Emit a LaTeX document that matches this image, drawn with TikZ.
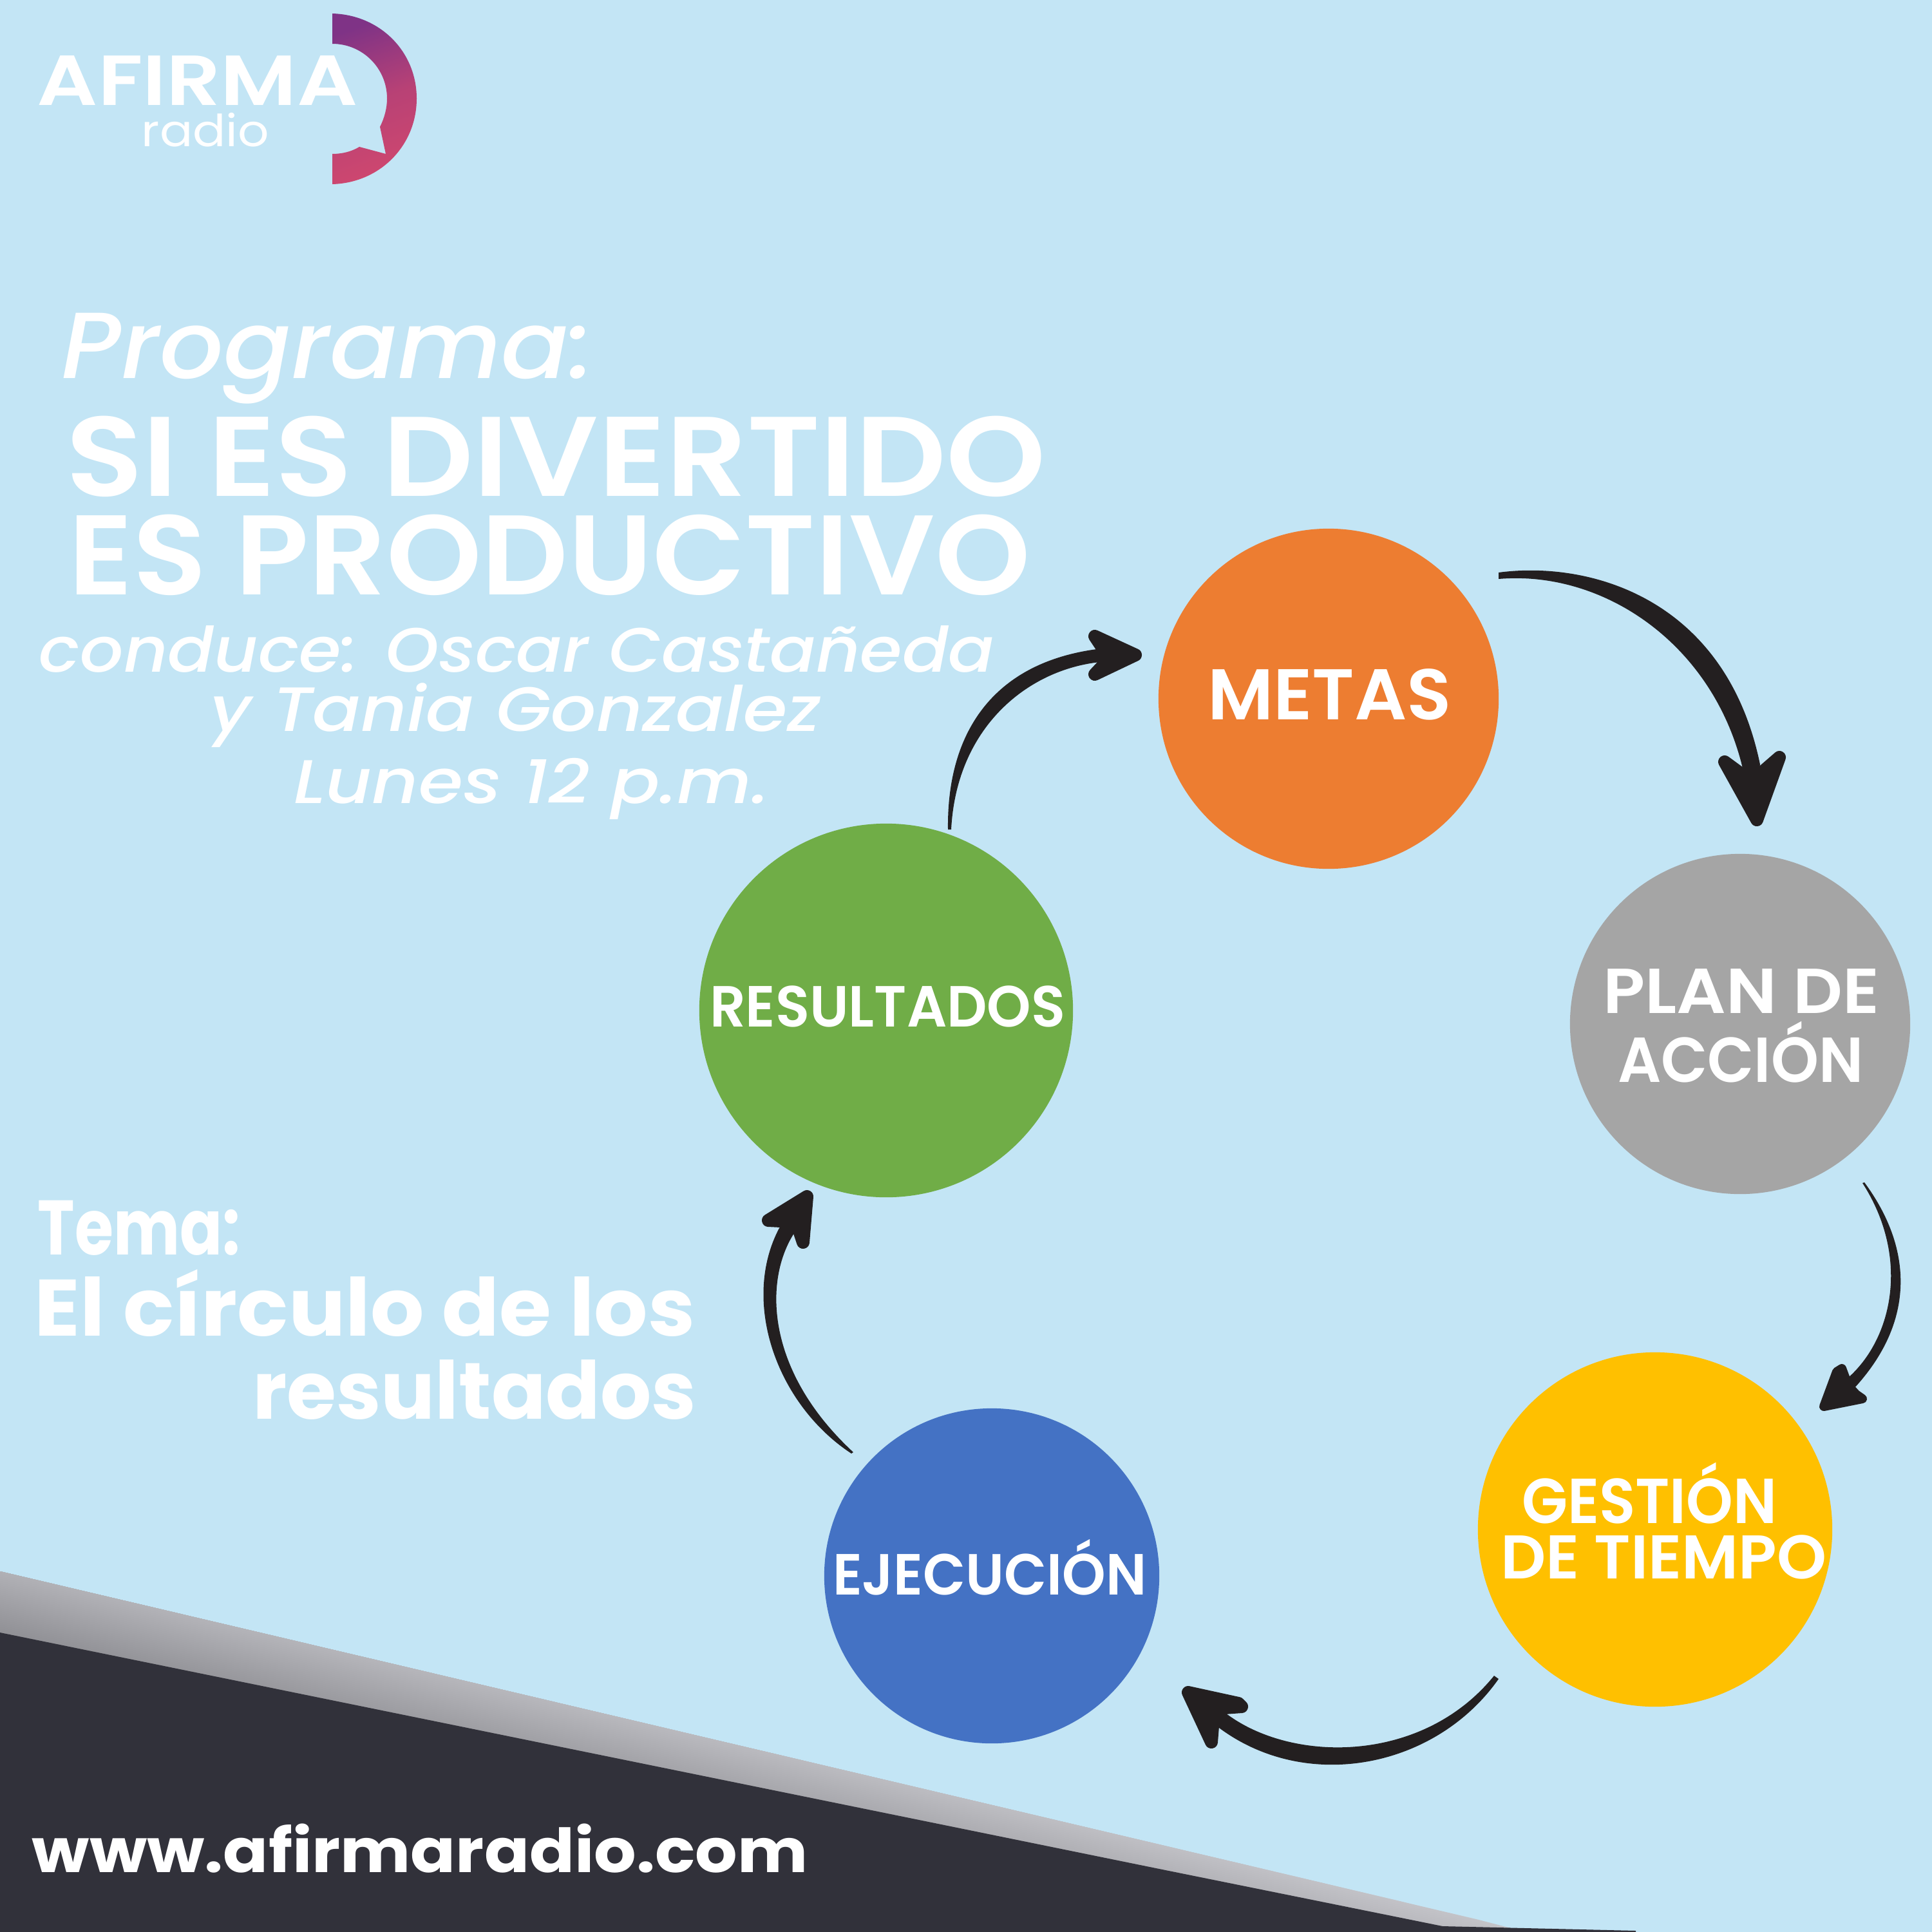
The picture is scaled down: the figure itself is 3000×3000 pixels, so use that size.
\documentclass[tikz,border=0pt]{standalone}
\usepackage{fontspec}
\usepackage{graphicx}
\setmainfont{Poppins}
\newfontfamily\pmed{Poppins Medium}
\newfontfamily\psemi{Poppins SemiBold}
\definecolor{bgc}{HTML}{C3E5F5}
\definecolor{darkc}{HTML}{31313A}
\definecolor{arrowc}{HTML}{231F20}
\definecolor{metasc}{HTML}{ED7D31}
\definecolor{planc}{HTML}{A5A5A5}
\definecolor{gestc}{HTML}{FFC000}
\definecolor{ejecc}{HTML}{4472C4}
\definecolor{resc}{HTML}{70AD47}
\definecolor{logoA}{HTML}{7F3386}
\definecolor{logoB}{HTML}{CE476F}
\newsavebox\mybox
\newcommand{\fittext}[7]{%
  \node[txt,xshift=-0.04cm] (#1) at (#2,#3) {%
  \pgfmathsetmacro\fs{#5*0.2845/0.70}%
  \sbox\mybox{#6\fontsize{\fs pt}{\fs pt}\selectfont #7}%
  \pgfmathsetmacro\rr{(#4+8)*0.2845/\the\wd\mybox}%
  \scalebox{\rr}[1]{\usebox\mybox}};%
}
\tikzset{
  txt/.style={anchor=base west,inner sep=0pt,outer sep=0pt,text=white},
  disc/.style={circle,inner sep=0pt,outer sep=0pt,draw=none},
  shaft/.style={fill=arrowc,draw=none},
  tiphead/.style={fill=arrowc,draw=arrowc,line width=2mm,line join=round}
}
\begin{document}
\begin{tikzpicture}[x=0.01cm,y=-0.01cm]
\useasboundingbox (0,0) rectangle (3000,3000);
\fill[bgc] (0,0) rectangle (3000,3000);
% bottom band
\begin{scope}
\clip (0,2440) -- (2326,2988) -- (2629,2997) -- (2760,3000) -- (0,3000) -- cycle;
\foreach \i in {0,...,51}{
  \pgfmathtruncatemacro\vv{195-\i}
  \pgfmathtruncatemacro\vb{\vv+5}
  \pgfmathsetmacro\yy{2384+\i*2.96}
  \definecolor{bandc}{RGB}{\vv,\vv,\vb}
  \fill[bandc] (0,\yy) -- (3000,\yy+780) -- (3000,3100) -- (0,3100) -- cycle;
}
\end{scope}
\fill[darkc] (0,2535) -- (500,2637) -- (1800,2902) -- (2240,2991) -- (2540,2998) -- (2540,3000) -- (0,3000) -- cycle;
% logo
\shade[top color=logoA,bottom color=logoB,middle color=logoB!72!logoA,shading angle=20]
  (516,21) .. controls (590,23) and (647,80) .. (647,153)
  .. controls (647,226) and (590,284) .. (516,286)
  -- (516,239) .. controls (530,239) and (545,236) .. (558,228)
  -- (599,239) -- (590,197)
  .. controls (597,183) and (601,168) .. (601,153)
  .. controls (601,106) and (563,68) .. (516,68) -- cycle;
\fittext{afirma}{62}{164}{489}{77}{\psemi}{AFIRMA}
\fittext{radio}{224}{228}{190}{48}{\rmfamily}{radio}
% heading texts
\fittext{prog}{100}{587}{818}{102}{\pmed\itshape}{Programa:}
\fittext{si}{106}{770}{1513}{123}{\psemi}{SI ES DIVERTIDO}
\fittext{es}{110}{923}{1485}{123}{\psemi}{ES PRODUCTIVO}
\fittext{cond}{65}{1043}{1475}{68}{\pmed\itshape}{conduce: Oscar Castañeda}
\fittext{tania}{330}{1135.5}{940}{68}{\pmed\itshape}{y Tania Gonzalez}
\fittext{lunes}{460}{1247}{730}{67}{\pmed\itshape}{Lunes 12 p.m.}
\fittext{tema}{63}{1948}{306}{84}{\bfseries}{Tema:}
\fittext{circ}{58}{2074}{1017}{87}{\bfseries}{El círculo de los}
\fittext{result}{396}{2203}{681}{87}{\bfseries}{resultados}
\fittext{www}{54}{2907}{1196}{66}{\bfseries}{www.afirmaradio.com}
% circles
\node[disc,fill=metasc,minimum size=5.28cm] (metas) at (2063,1085) {};
\node[disc,fill=planc,minimum size=5.28cm] (plan) at (2702,1590) {};
\node[disc,fill=gestc,minimum size=5.50cm] (gestion) at (2570,2375) {};
\node[disc,fill=ejecc,minimum size=5.20cm] (ejec) at (1540,2447) {};
\node[disc,fill=resc,minimum size=5.80cm] (resul) at (1376,1569) {};
\fittext{tmetas}{1879}{1117}{371}{78}{\psemi}{METAS}
\fittext{tplan}{2493}{1573}{421}{69}{\psemi}{PLAN DE}
\fittext{taccion}{2516}{1680}{373}{69}{\psemi}{ACCIÓN}
\fittext{tgest}{2367}{2365}{388}{69}{\psemi}{GESTIÓN}
\fittext{ttiempo}{2334}{2451}{498}{67}{\psemi}{DE TIEMPO}
\fittext{tejec}{1297}{2476}{479}{63}{\psemi}{EJECUCIÓN}
\fittext{tres}{1106}{1594}{544}{63}{\psemi}{RESULTADOS}
% arrow: metas -> plan
\coordinate (a1s) at (2327,889);
\fill[shaft] (a1s) .. controls (2470,870) and (2680,930) .. (2733,1187)
  -- (2725,1230) -- (2706,1193) .. controls (2660,1000) and (2490,885) .. (2327,899) -- cycle;
\filldraw[tiphead] (2733,1202) -- (2763,1176) -- (2728,1273) -- (2678,1183) -- (2708,1205) -- cycle;
% arrow: plan -> gestion
\coordinate (a2s) at (2895,1836);
\fill[shaft] (a2s) .. controls (2968,1935) and (2978,2050) .. (2877,2158)
  -- (2860,2165) -- (2863,2145) .. controls (2938,2085) and (2968,1955) .. (2892,1837) -- cycle;
\filldraw[tiphead,line width=1.4mm] (2882,2165) -- (2892,2172) -- (2832,2184) -- (2852,2130) -- (2860,2125) -- (2870,2152) -- cycle;
% arrow: gestion -> ejecucion
\coordinate (a3s) at (2327,2607);
\fill[shaft] (a3s) .. controls (2230,2745) and (2030,2785) .. (1893,2683)
  -- (1880,2650) -- (1907,2663) .. controls (2010,2738) and (2210,2738) .. (2320,2602) -- cycle;
\filldraw[tiphead] (1845,2628) -- (1923,2645) -- (1928,2650) -- (1900,2652) -- (1883,2680) -- (1881,2705) -- cycle;
% arrow: ejecucion -> resultados
\coordinate (a4s) at (1322,2257);
\fill[shaft] (a4s) .. controls (1205,2180) and (1150,2020) .. (1210,1907)
  -- (1230,1885) -- (1233,1915) .. controls (1185,1990) and (1190,2130) .. (1325,2255) -- cycle;
\filldraw[tiphead] (1253,1858) -- (1193,1895) -- (1213,1896) -- (1240,1908) -- (1247,1929) -- cycle;
% arrow: resultados -> metas
\coordinate (a5s) at (1472,1288);
\fill[shaft] (a5s) .. controls (1470,1140) and (1540,1030) .. (1703,1008)
  -- (1730,1018) -- (1708,1028) .. controls (1595,1040) and (1485,1130) .. (1477,1288) -- cycle;
\filldraw[tiphead] (1700,988) -- (1763,1017) -- (1700,1047) -- (1715,1031) -- (1712,1006) -- cycle;
\end{tikzpicture}
\end{document}
